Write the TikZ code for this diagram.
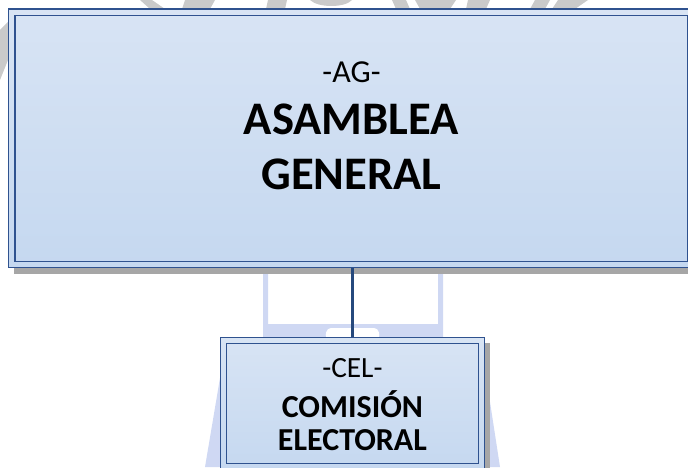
\documentclass[tikz,border=0pt]{standalone}
\usepackage{fontspec}
\setmainfont{Carlito}
\usetikzlibrary{shadows}

\definecolor{boxline}{RGB}{47,82,143}
\definecolor{boxtop}{RGB}{216,228,244}
\definecolor{boxbottom}{RGB}{197,216,240}
\definecolor{shadowgray}{RGB}{166,166,166}
\definecolor{linkblue}{RGB}{38,73,125}
\definecolor{markblue}{RGB}{207,216,243}
\definecolor{markgray}{RGB}{202,202,202}

\tikzset{every picture/.style={line width=0.75pt}}
\tikzset{
  orgbox/.style={draw=boxline, line width=1pt, top color=boxtop, bottom color=boxbottom, inner sep=0pt},
  bigshadow/.style={drop shadow={shadow xshift=3.75pt, shadow yshift=-4.5pt, fill=shadowgray, opacity=1}},
  smallshadow/.style={drop shadow={shadow xshift=4.5pt, shadow yshift=-3.75pt, fill=shadowgray, opacity=1}},
  innerframe/.style={draw=boxline, line width=0.9pt},
  connector/.style={draw=linkblue, line width=2.25pt},
  abbrtext/.style={anchor=base, inner sep=0pt, font=\fontsize{24}{26}\selectfont},
  nametext/.style={anchor=base, inner sep=0pt, font=\fontsize{35}{38}\selectfont\bfseries},
  smallabbr/.style={anchor=base, inner sep=0pt, font=\fontsize{22}{24}\selectfont},
  smallname/.style={anchor=base, inner sep=0pt, font=\fontsize{24}{26}\selectfont\bfseries}
}

\begin{document}
\begin{tikzpicture}[x=0.75pt,y=0.75pt,yscale=-1,xscale=1]
\useasboundingbox (0,0) rectangle (688,467);

%Watermark (faint logo behind)
\fill [markgray] (140,0) -- (152,0) -- (165,9) -- (150,9) -- cycle ;
\fill [markgray] (185,0) -- (215,0) -- (210,9) -- (182,9) -- cycle ;
\fill [markgray] (268,0) -- (287,0) -- (285,9) -- (266,9) -- cycle ;
\fill [markgray] (310,0) -- (352,0) .. controls (345,8) and (318,8) .. (310,0) -- cycle ;
\fill [markgray] (392,0) -- (406,0) -- (410,9) -- (396,9) -- cycle ;
\fill [markgray] (415,0) -- (456,0) -- (450,9) -- (420,9) -- cycle ;
\fill [markgray] (468,0) -- (490,0) -- (486,9) -- (466,9) -- cycle ;
\fill [markgray] (535,0) -- (550,0) -- (545,9) -- (530,9) -- cycle ;
\fill [markgray] (558,0) -- (588,0) -- (575,9) -- (552,9) -- cycle ;
\fill [markgray] (0,30) -- (8,22) -- (8,60) -- (0,80) -- cycle ;
\fill [markblue] (263,268) -- (268,268) -- (268,324) -- (438,324) -- (438,268) -- (443,268) -- (443,338) -- (263,338) -- cycle ;
\fill [white, rounded corners=3] (325,339) -- (327,328) -- (378,328) -- (380,339) -- cycle ;
\fill [markblue] (220,378) -- (220,467) -- (205,467) -- cycle ;
\fill [markblue] (486,376) -- (486,467) -- (500,467) -- cycle ;

%Asamblea General box
\node [orgbox, bigshadow, minimum width=514pt, minimum height=194pt] (ag) at (351.25,138.25) {};
\draw [innerframe] ([shift={(7,7)}]ag.north west) rectangle ([shift={(-7,-7)}]ag.south east) ;
\node [abbrtext] (agabbr) at (351.5,82) {-AG-};
\node [nametext] (agname) at (351.5,134) {ASAMBLEA};
\node [nametext] (agname2) at (351.5,189) {GENERAL};

%Comision Electoral box
\node [orgbox, smallshadow, minimum width=198pt, minimum height=99pt] (cel) at (352.4,403.6) {};
\draw [innerframe] ([shift={(6.5,6.5)}]cel.north west) rectangle ([shift={(-6.5,-6.5)}]cel.south east) ;
\node [smallabbr] (celabbr) at (352.4,377) {-CEL-};
\node [smallname] (celname) at (352.4,417) {COMISIÓN};
\node [smallname] (celname2) at (352.4,450) {ELECTORAL};

%Connector
\draw [connector] (cel.north |- ag.south) -- (cel.north) ;

\end{tikzpicture}
\end{document}
